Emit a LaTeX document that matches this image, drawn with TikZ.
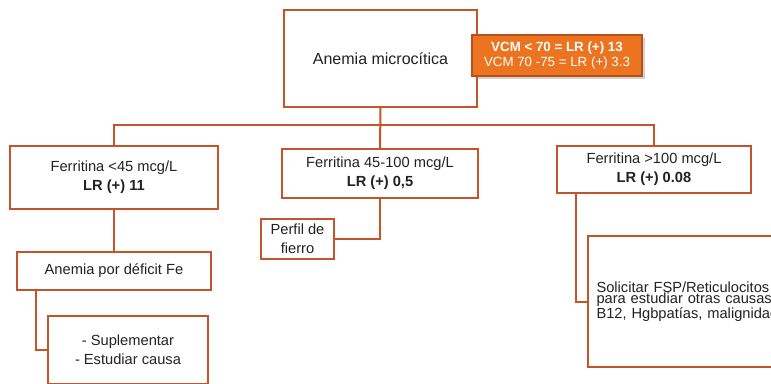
\documentclass[tikz,border=0pt]{standalone}
\usepackage{fontspec}
\setmainfont{Liberation Sans}
\usetikzlibrary{positioning,shadows}
\definecolor{amInk}{HTML}{222222}
\definecolor{amRust}{HTML}{C4552B}
\definecolor{amOrange}{HTML}{EC7420}
\definecolor{amEdge}{HTML}{B9501A}
\tikzset{
  box/.style    ={draw=amRust,line width=1.5pt,fill=white,inner sep=2pt,align=center,
                  font=\fontsize{11}{14}\selectfont,text=amInk},
  tagbox/.style ={draw=amEdge,line width=1pt,fill=amOrange,text=white,align=center,
                  inner sep=1pt,font=\fontsize{10}{11.5}\selectfont,
                  drop shadow={opacity=0.35,shadow xshift=2pt,shadow yshift=-2pt}},
  notebox/.style={box,align=left,inner xsep=6pt,font=\fontsize{11}{8.3}\selectfont},
  link/.style   ={amRust,line width=1.5pt},
}

\begin{document}
\begin{tikzpicture}[x=0.75pt,y=-0.75pt]
\useasboundingbox (0,0) rectangle (771,383);
\fill[white] (0,0) rectangle (771,383);
\clip (0,0) rectangle (771,383);

%% top of the tree
\node[box,minimum width=144.75pt,minimum height=72.75pt,font=\fontsize{12}{14}\selectfont] (top) at (380.5,58.5) {Anemia microcítica};
\node[tagbox,minimum width=127.5pt,minimum height=30.75pt] (vcm) at (557,55.5)
  {\textbf{VCM < 70 = LR (+) 13}\\VCM 70 -75 = LR (+) 3.3};

%% ferritin levels
\node[box,minimum width=156pt,minimum height=47.25pt] (low) at (114,177.5)
  {Ferritina <45 mcg/L\\\textbf{LR (+) 11}};
\node[box,minimum width=147pt,minimum height=36.75pt] (mid) at (380,173.5)
  {Ferritina 45-100 mcg/L\\\textbf{LR (+) 0,5}};
\node[box,minimum width=145.5pt,minimum height=35.25pt] (high) at (654,169.5)
  {Ferritina >100 mcg/L\\\textbf{LR (+) 0.08}};

%% follow-up boxes
\node[box,minimum width=54.75pt,minimum height=30pt] (perfil) at (297.5,239) {Perfil de\\fierro};
\node[box,minimum width=145.5pt,minimum height=28.5pt] (defic) at (114,271) {Anemia por déficit Fe};
\node[box,minimum width=120pt,minimum height=51pt] (supl) at (128,350)
  {- Suplementar\\- Estudiar causa};
\node[notebox,anchor=west,minimum width=174.75pt,minimum height=98.25pt,text width=162pt] (otras) at (587,301.5)
  {Solicitar FSP/Reticulocitos\\para estudiar otras causas:\\B12, Hgbpatías, malignidad};

\coordinate (bus) at (380,125);
\draw[link] (top.south) -- (mid.north);
\draw[link] (low.north) |- (bus) -| (high.north);
\draw[link] (mid.south) |- (perfil.east);
\draw[link] (low.south) -- (defic.north);
\draw[link] ([xshift=15pt]defic.south west) |- (supl.west);
\draw[link] ([xshift=15pt]high.south west) |- (otras.west);
\end{tikzpicture}
\end{document}
